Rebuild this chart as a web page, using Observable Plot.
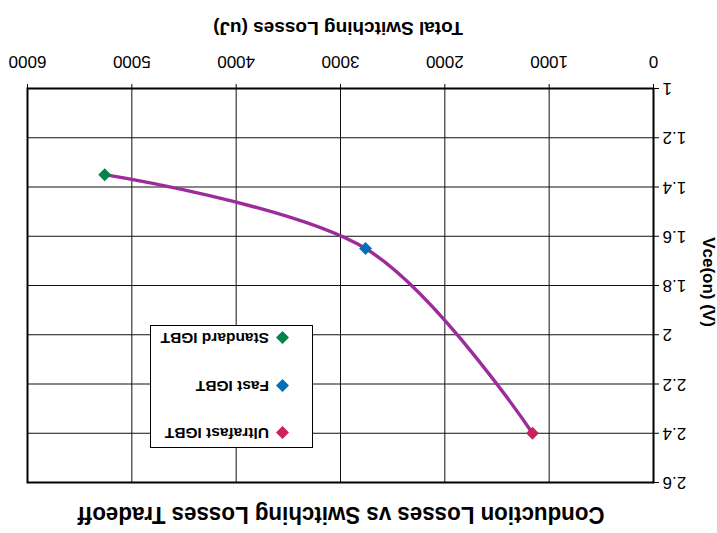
<!DOCTYPE html>
<html>
<head>
<meta charset="utf-8">
<script src="https://cdn.jsdelivr.net/npm/d3@7"></script>
<script src="https://cdn.jsdelivr.net/npm/@observablehq/plot@0.6"></script>
<style>
  html, body { margin: 0; padding: 0; background: #fff; overflow: hidden; }
  #chart {
    position: relative; width: 717px; height: 533px; background: #fff;
    font-family: "Liberation Sans", Arial, sans-serif; color: #000;
    transform: rotate(180deg); transform-origin: 358.5px 266.5px;
  }
  #title {
    position: absolute; left: 0; width: 752px; top: 3px; text-align: center;
    font-weight: bold; font-size: 24px; line-height: 30px; white-space: nowrap;
    transform: scaleX(0.93); transform-origin: 376px 50%;
  }
  #plot { position: absolute; left: 0; top: 40px; }
  #xlabel {
    position: absolute; left: 0; width: 758px; top: 494px; text-align: center;
    font-weight: bold; font-size: 19px; line-height: 22px; white-space: nowrap;
  }
  #ylabel {
    position: absolute; left: 9px; top: 251px; transform: translate(-50%, -50%) rotate(-90deg);
    font-weight: bold; font-size: 17px; line-height: 20px; white-space: nowrap;
  }
  #legend {
    position: absolute; left: 404px; top: 85px; width: 161px; height: 121px;
    border: 1px solid #000; background: #fff;
  }
  .item { position: absolute; left: 0; height: 20px; display: flex; align-items: center; }
  .item svg { margin-left: 23px; margin-right: 7px; }
  .item span { font-weight: bold; font-size: 15.5px; white-space: nowrap; }
</style>
</head>
<body>
<div id="chart">
  <div id="title">Conduction Losses vs Switching Losses Tradeoff</div>
  <div id="plot"></div>
  <div id="xlabel">Total Switching Losses (uJ)</div>
  <div id="ylabel">Vce(on) (V)</div>
  <div id="legend"></div>
</div>
<script>
// IGBT families and their measured operating points
const categories = ["Ultrafast IGBT", "Fast IGBT", "Standard IGBT"];
const switchingLosses = [1160, 2760, 5260];   // total switching losses, uJ
const vceOn = [2.4, 1.65, 1.35];               // conduction voltage Vce(on), V
const seriesColors = ["#CC2255", "#0070BA", "#00844A"];

// axis ticks
const xTicks = [0, 1000, 2000, 3000, 4000, 5000, 6000];
const yTicks = [1, 1.2, 1.4, 1.6, 1.8, 2, 2.2, 2.4, 2.6];

const rows = categories.map((c, i) => ({category: c, x: switchingLosses[i], y: vceOn[i]}));

const plot = Plot.plot({
  width: 717,
  height: 493,
  marginLeft: 63,
  marginRight: 28,
  marginTop: 10,
  marginBottom: 89,
  style: {fontFamily: '"Liberation Sans", Arial, sans-serif', fontSize: "17px", color: "#000", background: "#fff"},
  x: {domain: [0, 6000]},
  y: {domain: [1, 2.6]},
  color: {domain: categories, range: seriesColors},
  marks: [
    Plot.gridX(xTicks, {stroke: "#111", strokeOpacity: 1, strokeWidth: 1}),
    Plot.gridY(yTicks, {stroke: "#111", strokeOpacity: 1, strokeWidth: 1}),
    Plot.frame({stroke: "#000", strokeWidth: 2}),
    Plot.axisX(xTicks, {tickSize: 5, tickPadding: 15, tickFormat: d3.format("d"), label: null}),
    Plot.axisY(yTicks, {tickSize: 5, tickPadding: 4, tickFormat: d => String(+d.toFixed(1)), label: null}),
    Plot.line(rows, {x: "x", y: "y", curve: "cardinal", stroke: "#9B2C9A", strokeWidth: 3.4}),
    Plot.dot(rows, {x: "x", y: "y", fill: "category", symbol: "diamond2", r: 5.8, stroke: null})
  ]
});
document.getElementById("plot").appendChild(plot);

// legend entries, one per IGBT family
const legend = document.getElementById("legend");
const itemTops = [4, 51, 99];
categories.forEach((c, i) => {
  const item = document.createElement("div");
  item.className = "item";
  item.style.top = itemTops[i] + "px";
  item.innerHTML = `<svg width="13" height="13" viewBox="-6.5 -6.5 13 13"><polygon points="0,-6.5 6.5,0 0,6.5 -6.5,0" fill="${seriesColors[i]}"/></svg><span>${c}</span>`;
  legend.appendChild(item);
});
</script>
</body>
</html>
